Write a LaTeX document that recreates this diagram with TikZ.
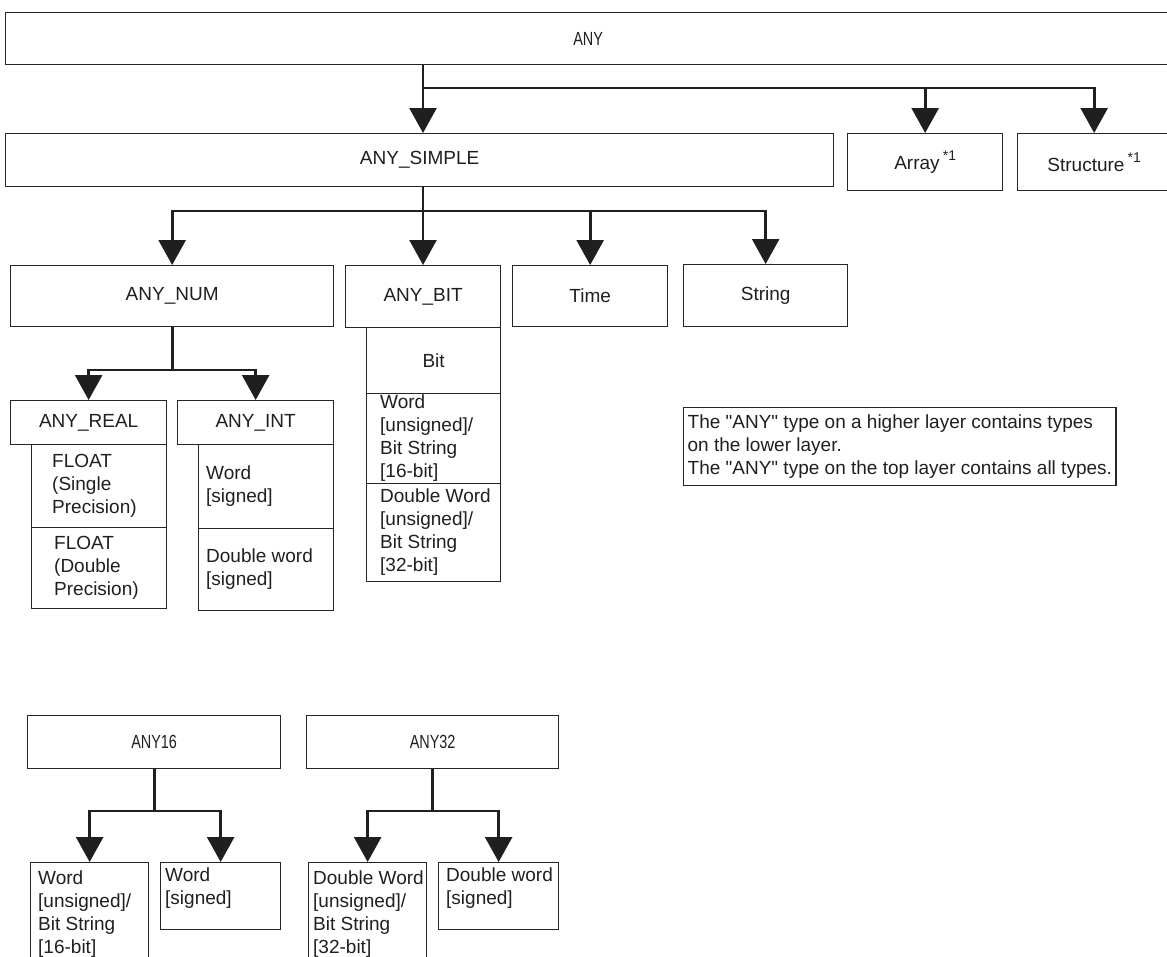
\documentclass[tikz,border=0pt]{standalone}
\usepackage{fontspec}
\setmainfont{Liberation Sans}
\usepackage{graphicx}
\usetikzlibrary{arrows.meta}
\newcommand{\narrowtxt}[1]{\scalebox{0.76}[1]{#1}}
\newcommand{\noteref}{\,\raisebox{0.5em}{\fontsize{14pt}{14pt}\selectfont *1}}
\newcommand{\dq}{\textquotedbl}
\begin{document}
\begin{tikzpicture}[x=1pt,y=-1pt,
  every node/.style={font=\fontsize{19pt}{23pt}\selectfont, text=black!88, inner sep=0pt},
  box/.style={draw=black!85, line width=1.3pt, anchor=north west, align=center},
  txt/.style={anchor=west, align=left},
  conn/.style={draw=black!88, line width=2.7pt},
  arr/.style={conn, -{Triangle[width=27pt,length=25pt]}}]
\useasboundingbox (0,0) rectangle (1167,956);
\clip (0,0) rectangle (1167,956);

% ---- top layers ----
\node[box, minimum width=1165pt, minimum height=52pt] (any) at (5,12) {\narrowtxt{ANY}};
\node[box, minimum width=828pt, minimum height=53pt] (simple) at (5,133) {ANY\_SIMPLE};
\node[box, minimum width=155pt, minimum height=57pt] (array) at (847,133) {Array\noteref};
\node[box, minimum width=153pt, minimum height=57pt] (struct) at (1017,133) {Structure\noteref};

\coordinate (j1) at (423,88);
\draw[conn] (any.south -| j1) -- (j1);
\draw[arr] (j1) -- (simple.north -| j1);
\draw[arr] (j1) -| (array.north);
\draw[arr] (j1) -| (struct.north);

% ---- elementary groups ----
\node[box, minimum width=323pt, minimum height=61pt] (anynum) at (10,265) {ANY\_NUM};
\node[box, minimum width=155pt, minimum height=62pt] (anybit) at (345,265) {ANY\_BIT};
\node[box, minimum width=155pt, minimum height=61pt] (time) at (512,265) {Time};
\node[box, minimum width=164pt, minimum height=62pt] (string) at (683,264) {String};

\coordinate (j2) at (423,211);
\draw[conn] (simple.south -| j2) -- (j2);
\draw[arr] (j2) -| (anynum.north);
\draw[arr] (j2) -- (anybit.north -| j2);
\draw[arr] (j2) -| (time.north);
\draw[arr] (j2) -| (string.north);

% ANY_BIT members
\node[box, minimum width=134pt, minimum height=66pt] (bit) at (366,327) {Bit};
\node[box, minimum width=134pt, minimum height=90pt] (wordu) at (366,393) {};
\node[box, minimum width=134pt, minimum height=98pt] (dwordu) at (366,483) {};
\node[txt] (wordu-t) at (380,438) {Word\\{[unsigned]/}\\Bit String\\{[16-bit]}};
\node[txt] (dwordu-t) at (380,532) {Double Word\\{[unsigned]/}\\Bit String\\{[32-bit]}};

% ANY_NUM branches
\node[box, minimum width=156pt, minimum height=44pt] (anyreal) at (10,400) {ANY\_REAL};
\node[box, minimum width=156pt, minimum height=44pt] (anyint) at (177,400) {ANY\_INT};

\coordinate (j3) at (172,370);
\draw[conn] (anynum.south) -- (anynum.south |- j3);
\draw[arr] (anynum.south |- j3) -| (anyreal.north);
\draw[arr] (anynum.south |- j3) -| (anyint.north);

\node[box, minimum width=135pt, minimum height=83pt] (fs) at (31,444) {};
\node[box, minimum width=135pt, minimum height=81pt] (fd) at (31,527) {};
\node[txt] (fs-t) at (52,486) {FLOAT\\(Single\\Precision)};
\node[txt] (fd-t) at (54,568) {FLOAT\\(Double\\Precision)};

\node[box, minimum width=135pt, minimum height=84pt] (ws) at (198,444) {};
\node[box, minimum width=135pt, minimum height=82pt] (dws) at (198,528) {};
\node[txt] (ws-t) at (206,486) {Word\\{[signed]}};
\node[txt] (dws-t) at (206,569) {Double word\\{[signed]}};

% ---- note ----
\node[box, align=left, inner xsep=4pt, inner ysep=7pt] (note) at (683,407)
  {The \dq ANY\dq{} type on a higher layer contains types\\on the lower layer.\\The \dq ANY\dq{} type on the top layer contains all types.};

% ---- ANY16 / ANY32 ----
\node[box, minimum width=253pt, minimum height=53pt] (any16) at (27,715) {\narrowtxt{ANY16}};
\node[box, minimum width=252pt, minimum height=53pt] (any32) at (306,715) {\narrowtxt{ANY32}};

\node[box, minimum width=118pt, minimum height=110pt] (w16u) at (30,862) {};
\node[box, minimum width=120pt, minimum height=67pt] (w16s) at (160,862) {};
\node[box, minimum width=118pt, minimum height=110pt] (d32u) at (308,862) {};
\node[box, minimum width=120pt, minimum height=67pt] (d32s) at (438,862) {};
\node[txt] (w16u-t) at (38,914) {Word\\{[unsigned]/}\\Bit String\\{[16-bit]}};
\node[txt] (w16s-t) at (165,888) {Word\\{[signed]}};
\node[txt] (d32u-t) at (313,914) {Double Word\\{[unsigned]/}\\Bit String\\{[32-bit]}};
\node[txt] (d32s-t) at (446,888) {Double word\\{[signed]}};

\coordinate (j4) at (0,811);
\draw[conn] (any16.south) -- (any16.south |- j4);
\draw[arr] (any16.south |- j4) -| (w16u.north);
\draw[arr] (any16.south |- j4) -| (w16s.north);
\draw[conn] (any32.south) -- (any32.south |- j4);
\draw[arr] (any32.south |- j4) -| (d32u.north);
\draw[arr] (any32.south |- j4) -| (d32s.north);
\end{tikzpicture}
\end{document}
